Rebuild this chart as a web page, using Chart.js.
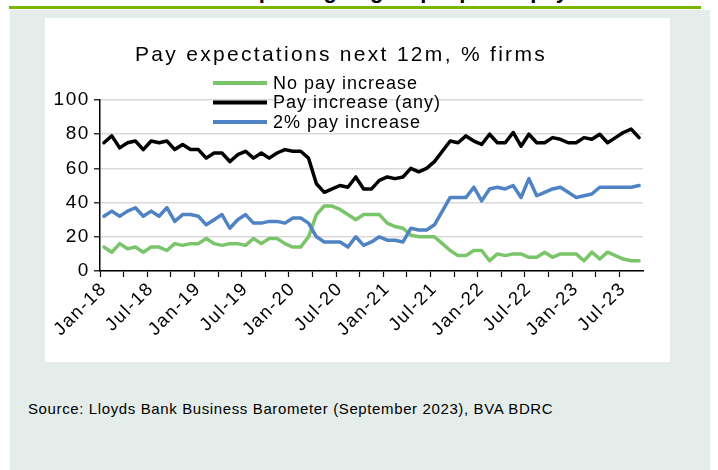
<!DOCTYPE html>
<html>
<head>
<meta charset="utf-8">
<script src="https://cdn.jsdelivr.net/npm/chart.js@4/dist/chart.umd.min.js"></script>
<style>
  body { margin: 0; width: 718px; height: 470px; overflow: hidden; position: relative; background: #fff;
         font-family: "Liberation Sans", Arial, sans-serif; }
  #heading { position: absolute; left: 0; top: -21px; width: 718px; text-align: center;
             font-weight: bold; font-size: 22px; line-height: 24px; white-space: nowrap; }
  #rule { position: absolute; left: 9px; top: 6px; width: 692px; height: 3px; background: #78b800; }
  #panel { position: absolute; left: 10px; top: 10px; width: 700px; height: 460px; background: #e4edea; }
  #box { position: absolute; left: 45px; top: 18px; width: 625px; height: 344px; background: #fff; }
  #source { position: absolute; left: 28px; top: 400px; font-size: 15px; letter-spacing: 0.62px; white-space: nowrap; }
</style>
</head>
<body>
<div id="heading">Fewer firms expecting to give people no pay rise</div>
<div id="rule"></div>
<div id="panel"></div>
<div id="box"><canvas id="payChart" width="625" height="344"></canvas></div>
<div id="source">Source: Lloyds Bank Business Barometer (September 2023), BVA BDRC</div>

<script>
// monthly survey, Jan-18 .. Sep-23
const months = [
  'Jan-18','Feb-18','Mar-18','Apr-18','May-18','Jun-18','Jul-18','Aug-18','Sep-18','Oct-18','Nov-18','Dec-18',
  'Jan-19','Feb-19','Mar-19','Apr-19','May-19','Jun-19','Jul-19','Aug-19','Sep-19','Oct-19','Nov-19','Dec-19',
  'Jan-20','Feb-20','Mar-20','Apr-20','May-20','Jun-20','Jul-20','Aug-20','Sep-20','Oct-20','Nov-20','Dec-20',
  'Jan-21','Feb-21','Mar-21','Apr-21','May-21','Jun-21','Jul-21','Aug-21','Sep-21','Oct-21','Nov-21','Dec-21',
  'Jan-22','Feb-22','Mar-22','Apr-22','May-22','Jun-22','Jul-22','Aug-22','Sep-22','Oct-22','Nov-22','Dec-22',
  'Jan-23','Feb-23','Mar-23','Apr-23','May-23','Jun-23','Jul-23','Aug-23','Sep-23'
];

// % of firms
const noPayIncrease = [
  14, 11, 16, 13, 14, 11, 14, 14, 12, 16, 15, 16,
  16, 19, 16, 15, 16, 16, 15, 19, 16, 19, 19, 16,
  14, 14, 20, 33, 38, 38, 36, 33, 30, 33, 33, 33,
  28, 26, 25, 21, 20, 20, 20, 16, 12, 9, 9, 12,
  12, 6, 10, 9, 10, 10, 8, 8, 11, 8, 10, 10,
  10, 6, 11, 7, 11, 9, 7, 6, 6
];
const anyPayIncrease = [
  75, 79, 72, 75, 76, 71, 76, 75, 76, 71, 74, 71,
  71, 66, 69, 69, 64, 68, 70, 66, 69, 66, 69, 71,
  70, 70, 66, 51, 46, 48, 50, 49, 55, 48, 48, 53,
  55, 54, 55, 60, 58, 60, 64, 70, 76, 75, 79, 76,
  74, 80, 75, 75, 81, 73, 80, 75, 75, 78, 77, 75,
  75, 78, 77, 80, 75, 78, 81, 83, 78
];
const twoPctIncrease = [
  32, 35, 32, 35, 37, 32, 35, 32, 37, 29, 33, 33,
  32, 27, 30, 33, 25, 30, 33, 28, 28, 29, 29, 28,
  31, 31, 28, 20, 17, 17, 17, 14, 20, 15, 17, 20,
  18, 18, 17, 25, 24, 24, 27, 35, 43, 43, 43, 49,
  41, 48, 49, 48, 50, 43, 54, 44, 46, 48, 49, 46,
  43, 44, 45, 49, 49, 49, 49, 49, 50
];

const yTicks = [0, 20, 40, 60, 80, 100];
const chartTitle = 'Pay expectations next 12m, % firms';
const FONT = '"Liberation Sans", Arial, sans-serif';

// title + legend sit inside the top of the plot, drawn by hand
const titleAndKey = {
  id: 'titleAndKey',
  beforeDraw(chart) {
    chart.ctx.letterSpacing = '1.6px';
  },
  afterDraw(chart) {
    const ctx = chart.ctx;
    ctx.save();
    ctx.fillStyle = '#000';
    ctx.textBaseline = 'middle';
    ctx.font = '21px ' + FONT;
    ctx.letterSpacing = '2.3px';
    ctx.textAlign = 'center';
    ctx.fillText(chartTitle, 296, 37);

    ctx.font = '18px ' + FONT;
    ctx.letterSpacing = '1px';
    ctx.textAlign = 'left';
    chart.data.datasets.forEach((ds, i) => {
      const y = 65 + i * 19.5;
      ctx.strokeStyle = ds.borderColor;
      ctx.lineWidth = 4;
      ctx.beginPath();
      ctx.moveTo(168, y);
      ctx.lineTo(222, y);
      ctx.stroke();
      ctx.fillText(ds.label, 228, y + 1);
    });
    ctx.restore();
  }
};

const lineStyle = { borderWidth: 3.5, pointRadius: 0, tension: 0, borderJoinStyle: 'round', borderCapStyle: 'round', fill: false };

new Chart(document.getElementById('payChart'), {
  type: 'line',
  data: {
    labels: months,
    datasets: [
      { label: 'No pay increase', data: noPayIncrease, borderColor: '#7ac46a', order: 3, ...lineStyle },
      { label: 'Pay increase (any)', data: anyPayIncrease, borderColor: '#000000', order: 2, ...lineStyle },
      { label: '2% pay increase', data: twoPctIncrease, borderColor: '#4f83c4', order: 1, ...lineStyle }
    ]
  },
  options: {
    responsive: false,
    animation: false,
    layout: { padding: { top: 82, right: 27, left: 0, bottom: 0 } },
    plugins: { legend: { display: false }, title: { display: false }, tooltip: { enabled: false } },
    scales: {
      x: {
        offset: true,
        grid: {
          offset: true,
          drawOnChartArea: false,
          tickLength: 6,
          tickColor: c => (c.index % 3 === 0 ? '#000' : 'rgba(0,0,0,0)'),
          tickWidth: 1.2
        },
        border: { color: '#000', width: 1.5 },
        ticks: {
          autoSkip: false,
          maxRotation: 45,
          minRotation: 45,
          padding: 1,
          color: '#000',
          font: { family: FONT, size: 18.5 },
          callback(val, idx) { return idx % 6 === 0 ? this.getLabelForValue(val) : ''; }
        },
        afterFit(scale) { scale.height = 91; }
      },
      y: {
        min: 0,
        max: 100,
        afterBuildTicks(scale) { scale.ticks = yTicks.map(v => ({ value: v })); },
        grid: { color: '#d9d9d9', lineWidth: 1.6, tickLength: 6, tickColor: '#000', tickWidth: 1.2 },
        border: { color: '#000', width: 1.5 },
        ticks: { padding: 4, color: '#000', font: { family: FONT, size: 19 } },
        afterFit(scale) { scale.width = 55; }
      }
    }
  },
  plugins: [titleAndKey]
});
</script>
</body>
</html>
